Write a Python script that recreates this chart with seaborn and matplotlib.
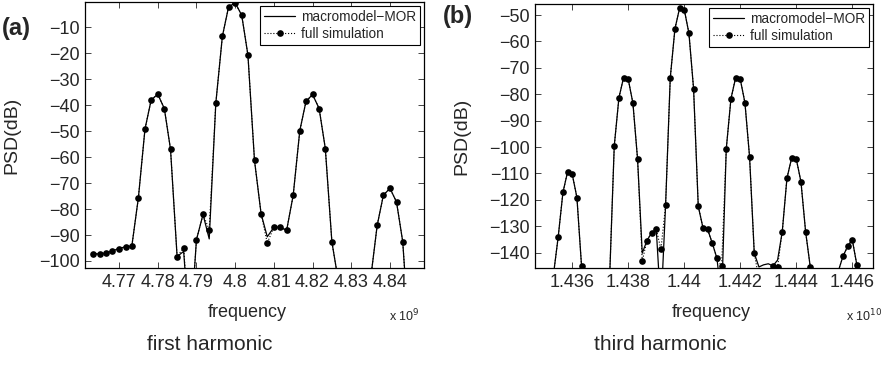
import matplotlib
matplotlib.use('Agg')
import matplotlib.pyplot as plt
from matplotlib.ticker import FixedLocator, FixedFormatter
import seaborn as sns

# first harmonic (frequency in units of 1e9 Hz)
freq1 = [4.7633, 4.7650, 4.7667, 4.7683, 4.7700, 4.7717, 4.7733, 4.7750, 4.7767, 4.7783,
         4.7800, 4.7817, 4.7833, 4.7850, 4.7867, 4.7883, 4.7900, 4.7917, 4.7933, 4.7950,
         4.7967, 4.7983, 4.8000, 4.8017, 4.8033, 4.8050, 4.8067, 4.8083, 4.8100, 4.8117,
         4.8133, 4.8150, 4.8167, 4.8183, 4.8200, 4.8217, 4.8233, 4.8250, 4.8267, 4.8283,
         4.8300, 4.8317, 4.8333, 4.8350, 4.8367, 4.8383, 4.8400, 4.8417, 4.8433, 4.8450,
         4.8467, 4.8483]
full1 = [-97.2, -97.3, -96.9, -96.1, -95.2, -94.5, -94.3, -75.6, -49.2, -38.0,
         -35.8, -41.3, -57.0, -98.3, -94.9, -130.0, -91.8, -82.1, -87.9, -39.3,
         -13.5, -2.2, -0.6, -5.4, -20.7, -61.3, -81.8, -93.1, -87.0, -87.0,
         -88.2, -74.7, -49.9, -38.6, -35.9, -41.3, -56.7, -92.7, -108.0, -115.0,
         -118.0, -116.0, -112.0, -107.0, -86.3, -74.7, -72.0, -77.3, -92.5, -130.0,
         -135.0, -133.0]
macro1 = [-97.2, -97.3, -96.9, -96.1, -95.2, -94.5, -94.3, -75.6, -49.2, -38.0,
          -35.8, -41.3, -57.0, -98.3, -96.3, -130.0, -91.8, -82.1, -91.5, -39.3,
          -13.5, -2.2, -0.6, -5.4, -20.7, -61.3, -81.8, -90.7, -87.0, -87.0,
          -88.2, -74.7, -49.9, -38.6, -35.9, -41.3, -56.7, -92.7, -108.0, -115.0,
          -118.0, -116.0, -112.0, -107.0, -86.3, -74.7, -72.0, -77.3, -92.5, -130.0,
          -135.0, -133.0]

# third harmonic (frequency in units of 1e10 Hz)
freq3 = [1.434667, 1.434833, 1.435000, 1.435167, 1.435333, 1.435500, 1.435667, 1.435833,
         1.436000, 1.436167, 1.436333, 1.436500, 1.436667, 1.436833, 1.437000, 1.437167,
         1.437333, 1.437500, 1.437667, 1.437833, 1.438000, 1.438167, 1.438333, 1.438500,
         1.438667, 1.438833, 1.439000, 1.439167, 1.439333, 1.439500, 1.439667, 1.439833,
         1.440000, 1.440167, 1.440333, 1.440500, 1.440667, 1.440833, 1.441000, 1.441167,
         1.441333, 1.441500, 1.441667, 1.441833, 1.442000, 1.442167, 1.442333, 1.442500,
         1.442667, 1.442833, 1.443000, 1.443167, 1.443333, 1.443500, 1.443667, 1.443833,
         1.444000, 1.444167, 1.444333, 1.444500, 1.444667, 1.444833, 1.445000, 1.445167,
         1.445333, 1.445500, 1.445667, 1.445833, 1.446000, 1.446167, 1.446333, 1.446500,
         1.446667]
full3 = [-160, -158, -155, -152, -148, -133.9, -117.2, -109.4,
         -110.3, -119.1, -145.2, -160, -165, -168, -165, -160,
         -150, -99.6, -81.3, -73.7, -74.3, -83.4, -104.6, -143.2,
         -135.4, -132.5, -131.1, -138.7, -122.1, -73.8, -55.2, -47.4,
         -47.9, -56.9, -77.9, -122.4, -130.5, -131.1, -136.4, -142.1,
         -145.2, -100.7, -81.7, -73.8, -74.3, -83.2, -103.8, -140.2,
         -150, -152, -150, -145.2, -145.3, -132.0, -111.8, -104.2,
         -104.5, -113.1, -132.0, -145.4, -155, -160, -162, -160,
         -155, -147, -141.4, -137.6, -135.1, -144.8, -155, -160,
         -162]
macro3 = [-160, -158, -155, -152, -148, -133.9, -117.2, -109.4,
          -110.3, -119.1, -145.2, -160, -165, -168, -165, -160,
          -150, -99.6, -81.3, -73.7, -74.3, -83.4, -104.6, -140.2,
          -135.4, -132.5, -131.1, -161.0, -122.1, -73.8, -55.2, -47.4,
          -47.9, -56.9, -77.9, -122.4, -130.5, -131.1, -136.4, -142.1,
          -158.0, -100.7, -81.7, -73.8, -74.3, -83.2, -103.8, -140.2,
          -145.4, -144.6, -144.2, -145.0, -142.8, -132.0, -111.8, -104.2,
          -104.5, -113.1, -132.0, -145.4, -155, -160, -162, -160,
          -155, -147, -141.4, -137.6, -135.1, -144.8, -155, -160,
          -162]

xticks1 = [4.77, 4.78, 4.79, 4.80, 4.81, 4.82, 4.83, 4.84]
xlabels1 = ['4.77', '4.78', '4.79', '4.8', '4.81', '4.82', '4.83', '4.84']
xticks3 = [1.436, 1.438, 1.440, 1.442, 1.444, 1.446]
xlabels3 = ['1.436', '1.438', '1.44', '1.442', '1.444', '1.446']
yticks1 = [-100, -90, -80, -70, -60, -50, -40, -30, -20, -10]
yticks3 = [-140, -130, -120, -110, -100, -90, -80, -70, -60, -50]

sns.set_style('ticks')
plt.rcParams['font.family'] = ['Liberation Sans', 'DejaVu Sans']

fig = plt.figure(figsize=(8.83, 3.65), dpi=100)
ax1 = fig.add_axes([85 / 883, 1 - 268 / 365, 339 / 883, 266 / 365])
ax2 = fig.add_axes([535 / 883, 1 - 268 / 365, 338 / 883, 264 / 365])


def draw(ax, x, full, macro, xt, xl, yt, xlim, ylim):
    sns.lineplot(x=x, y=macro, ax=ax, color='k', lw=0.9, sort=False,
                 label='macromodel\u2212MOR')
    sns.lineplot(x=x, y=full, ax=ax, color='k', lw=0.8, ls=':', sort=False,
                 marker='o', markersize=4.8, markeredgewidth=0,
                 label='full simulation')
    ax.set_xlim(xlim)
    ax.set_ylim(ylim)
    ax.xaxis.set_major_locator(FixedLocator(xt))
    ax.xaxis.set_major_formatter(FixedFormatter(xl))
    ax.set_yticks(yt)
    ax.tick_params(direction='in', top=True, right=True, length=4, width=0.6,
                   labelsize=13, pad=4)
    for s in ax.spines.values():
        s.set_linewidth(0.9)
        s.set_color('k')
    ax.set_xlabel('frequency', fontsize=13)
    ax.set_ylabel('PSD(dB)', fontsize=14)
    ax.yaxis.set_label_coords(-0.19, 0.5)
    leg = ax.legend(loc='upper right', fontsize=9.8, frameon=True, fancybox=False,
                    framealpha=1, edgecolor='k', borderaxespad=0.3, borderpad=0.3,
                    labelspacing=0.2, handlelength=2.3, handletextpad=0.4)
    leg.get_frame().set_linewidth(0.8)


draw(ax1, freq1, full1, macro1, xticks1, xlabels1, yticks1, (4.7612, 4.8488), (-102.7, -0.3))
draw(ax2, freq3, full3, macro3, xticks3, xlabels3, yticks3, (1.43467, 1.44674), (-145.8, -45.8))
ax1.xaxis.set_label_coords(0.48, -0.135)
ax2.xaxis.set_label_coords(0.52, -0.135)

fig.text(389 / 883, 1 - 316 / 365, 'x 10$^{9}$', fontsize=9, va='center')
fig.text(846 / 883, 1 - 316 / 365, 'x 10$^{10}$', fontsize=9, va='center')
fig.text(2 / 883, 1 - 28 / 365, '(a)', fontsize=17, fontweight='bold', va='center')
fig.text(443 / 883, 1 - 17 / 365, '(b)', fontsize=17, fontweight='bold', va='center')
fig.text(210 / 883, 1 - 345 / 365, 'first harmonic', fontsize=15, ha='center', va='center')
fig.text(660 / 883, 1 - 345 / 365, 'third harmonic', fontsize=15, ha='center', va='center')

fig.savefig('out.png', dpi=100)
